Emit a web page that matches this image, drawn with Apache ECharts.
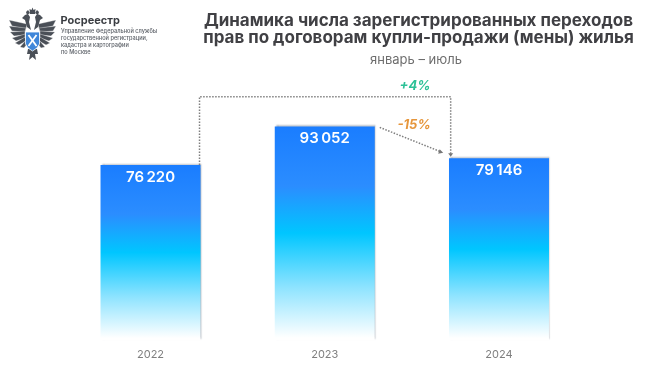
<!DOCTYPE html>
<html><head><meta charset="utf-8">
<style>html,body{margin:0;padding:0;background:#fff}#c{width:650px;height:365px}</style>
<script src="https://cdn.jsdelivr.net/npm/echarts@6/dist/echarts.min.js"></script>
</head><body><div id="c"></div>
<script>
var years = ['2022','2023','2024'];
var values = [76220,93052,79146];
var valueLabels = ['76\u2009220','93\u2009052','79\u2009146'];
var titleLines = ['Динамика числа зарегистрированных переходов','прав по договорам купли-продажи (мены) жилья'];
var subtitle = 'январь – июль';
var changeTotal = '+4%';
var changeLast = '-15%';
var orgName = 'Росреестр';
var orgLines = ['Управление Федеральной службы','государственной регистрации,','кадастра и картографии','по Москве'];

var FONT = 'Inter, "Noto Sans", sans-serif';
var chart = echarts.init(document.getElementById('c'), null, {renderer:'canvas'});
var barGrad = new echarts.graphic.LinearGradient(0,0,0,1,[
  {offset:0,color:'#1a7dff'},{offset:0.28,color:'#2b8dff'},{offset:0.5,color:'#00c6ff'},
  {offset:0.75,color:'#8ce3ff'},{offset:0.99,color:'#ffffff'}]);
chart.setOption({
  animation:false,
  backgroundColor:'#ffffff',
  grid:{left:63.4,width:522.7,top:87.5,height:252.5},
  xAxis:{type:'category',data:years,axisLine:{show:false},axisTick:{show:false},
    axisLabel:{color:'#7f7f7f',fontSize:11,fontFamily:FONT,margin:9}},
  yAxis:{type:'value',min:0,max:110000,show:false,splitLine:{show:false}},
  series:[{type:'bar',data:values,barWidth:100,
    itemStyle:{color:barGrad,shadowColor:'rgba(120,130,145,0.55)',shadowBlur:1.5,shadowOffsetX:1,shadowOffsetY:-1},
    label:{show:true,position:'insideTop',distance:5,color:'#fff',fontFamily:FONT,fontWeight:600,fontSize:15,
      formatter:function(p){return valueLabels[p.dataIndex];}}}]
});
function px(i,v){return chart.convertToPixel({xAxisIndex:0,yAxisIndex:0},[i,v]);}
var half=50;
var a=px(0,values[0]), b=px(2,values[2]), c=px(1,values[1]);
var elbowY=96.7, ax=a[0]+half-1, bx=b[0]-half+1.7;
var dotted={stroke:'#7f7f7f',lineWidth:1.5,lineDash:[1.5,1.5],fill:null};
var tx=function(x,y,text,st){return {type:'text',x:x,y:y,silent:true,style:Object.assign({text:text,fontFamily:FONT,fill:'#333'},st)};};
var els=[
  {type:'polyline',shape:{points:[[ax,a[1]],[ax,elbowY],[bx,elbowY],[bx,b[1]-4]]},style:dotted},
  {type:'polygon',shape:{points:[[bx-2.5,b[1]-5],[bx+2.5,b[1]-5],[bx,b[1]-1.5]]},style:{fill:'#777'}},
  {type:'line',shape:{x1:c[0]+half+5,y1:c[1]+1,x2:bx-11,y2:b[1]-7},style:dotted},
  {type:'polygon',shape:{points:[[bx-7.5,b[1]-5.5],[bx-12.5,b[1]-4.5],[bx-11,b[1]-9]]},style:{fill:'#777'}},
  tx(415,85.7,changeTotal,{fill:'#2cc197',fontSize:13,fontWeight:700,fontStyle:'italic',align:'center',verticalAlign:'middle'}),
  tx(414,125,changeLast,{fill:'#e6963c',fontSize:13,fontWeight:700,fontStyle:'italic',align:'center',verticalAlign:'middle'}),
  tx(418.5,20.5,titleLines[0],{fontSize:17,fontWeight:700,fill:'#404044',align:'center',verticalAlign:'middle'}),
  tx(418.5,38,titleLines[1],{fontSize:17,fontWeight:700,fill:'#404044',align:'center',verticalAlign:'middle'}),
  tx(416,60,subtitle,{fontSize:13,fill:'#6e6e6e',align:'center',verticalAlign:'middle'}),
  tx(60.5,21,orgName,{fontSize:11,fontWeight:700,fill:'#3a3d42',verticalAlign:'middle'})
];
orgLines.forEach(function(t,i){els.push(tx(61,31.7+i*7,t,{fontSize:5.6,fontWeight:500,fill:'#5a5f66',verticalAlign:'middle'}));});
// emblem, drawn symmetrically about one axis
var mid=32.5, wing='#4a4f57';
function sym(pts,style){
  els.push({type:'polygon',shape:{points:pts},style:style});
  els.push({type:'polygon',shape:{points:pts.map(function(p){return [2*mid-p[0],p[1]];})},style:style});
}
var feathers=[[[27,24],[9,20],[12,26],[26,29]],[[26,28],[9,26],[12,31],[25,32]],[[25,31],[10,32],[14,36],[25,35]],
  [[25,34],[12,38],[16,41],[25,38]],[[25,37],[15,43],[19,45],[26,41]],[[26,40],[20,47],[24,48],[27,44]]];
feathers.forEach(function(f){sym(f,{fill:wing,stroke:'#fff',lineWidth:0.35});});
sym([[27,27],[25,20],[22,18],[25,15],[28,14],[30,17],[29,22],[31,30]],{fill:wing});
sym([[30,13],[28,10],[26,12],[27,15]],{fill:wing});
els.push({type:'polygon',shape:{points:[[30,14],[29.5,9],[31.5,10],[32.5,7.5],[33.5,10],[35.5,9],[35,14]]},style:{fill:wing}});
els.push({type:'polygon',shape:{points:[[28,49],[37,49],[38,54],[35,54],[36,60],[32.5,57],[29,60],[30,54],[27,54]]},style:{fill:wing}});
els.push({type:'polygon',shape:{points:[[25.5,32],[39.5,32],[39.5,44],[37,48],[32.5,51],[28,48],[25.5,44]]},style:{fill:'#3f86d9',stroke:'#fff',lineWidth:0.8}});
els.push({type:'line',shape:{x1:28.5,y1:35,x2:36.5,y2:46},style:{stroke:'#fff',lineWidth:1.8}});
els.push({type:'line',shape:{x1:36.5,y1:35,x2:28.5,y2:46},style:{stroke:'#fff',lineWidth:1.8}});
chart.setOption({graphic:{elements:els.map(function(e){e.silent=true;return e;})}});
</script></body></html>
